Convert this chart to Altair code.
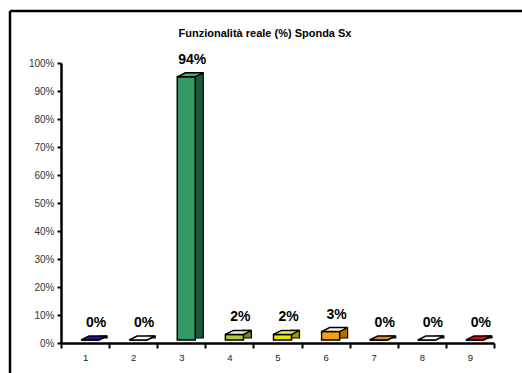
import altair as alt
import pandas as pd

categories = ["1", "2", "3", "4", "5", "6", "7", "8", "9"]
values = [0.0, 0.0, 0.94, 0.02, 0.02, 0.03, 0.0, 0.0, 0.0]
labels = ["0%", "0%", "94%", "2%", "2%", "3%", "0%", "0%", "0%"]
front_colors = ["#10108a", "#e8eef8", "#339966", "#b8c838", "#e6e600", "#f0a010", "#cc8400", "#ffffff", "#c80000"]
top_colors = ["#1818a0", "#f4f6ff", "#3aa872", "#f0f0c8", "#f2f230", "#fff6dc", "#d89020", "#fff4f0", "#d81010"]
side_colors = ["#08085a", "#3355aa", "#1d5a3c", "#6a8a20", "#9a9a00", "#b07000", "#8a5800", "#dd2020", "#880000"]
title_text = "Funzionalità reale (%) Sponda Sx"

df = pd.DataFrame({"cat": categories, "val": values, "lab": labels,
                   "front": front_colors, "top": top_colors, "side": side_colors})

FONT = "Liberation Sans"
FLOOR = -3

x = alt.X("cat:N", sort=categories, title=None,
          scale=alt.Scale(paddingInner=0, paddingOuter=0),
          axis=alt.Axis(labelAngle=0, tickBand="extent", domainColor="black", domainWidth=2.5,
                        tickColor="black", tickWidth=2, tickSize=5, labelFontSize=9.5,
                        labelFont=FONT, labelColor="#222", labelPadding=4))
y = alt.Y("val:Q", title=None,
          scale=alt.Scale(domain=[0, 1], nice=False),
          axis=alt.Axis(values=[i / 10 for i in range(11)], format=".0%", grid=False,
                        domainColor="black", domainWidth=2.5, tickColor="black", tickWidth=2,
                        tickSize=4, labelFontSize=10, labelFont=FONT, labelColor="#333",
                        labelPadding=3))

base = alt.Chart(df)

side = base.mark_bar(size=8, xOffset=18, yOffset=FLOOR - 4, y2Offset=FLOOR - 2,
                     stroke="black", strokeWidth=1.2).encode(
    x=x, y=y, y2=alt.datum(0), fill=alt.Fill("side:N", scale=None))

front = base.mark_bar(size=18, xOffset=5, yOffset=FLOOR, y2Offset=FLOOR,
                      stroke="black", strokeWidth=1.5).encode(
    x=x, y=y, y2=alt.datum(0), fill=alt.Fill("front:N", scale=None))

shape = "M -1 0.154 L 0.385 0.154 L 1 -0.154 L -0.385 -0.154 Z"
top = base.mark_point(shape=shape, size=676, filled=True, stroke="black", strokeWidth=1.5,
                      opacity=1, xOffset=9, yOffset=FLOOR - 2).encode(
    x=x, y=y, fill=alt.Fill("top:N", scale=None))

text = base.mark_text(dx=11, dy=-16, baseline="alphabetic", fontSize=14, fontWeight="bold",
                      font=FONT, color="black").encode(x=x, y=y, text="lab:N")

one = pd.DataFrame({"a": [0]})
title = alt.Chart(one).mark_text(fontSize=11, fontWeight="bold", font=FONT, color="black",
                                 align="center", baseline="alphabetic").encode(
    x=alt.value(204), y=alt.value(-26), text=alt.value(title_text))
border_top = alt.Chart(one).mark_rule(color="black", strokeWidth=2.5).encode(
    x=alt.value(-51), x2=alt.value(600), y=alt.value(-52))
border_left = alt.Chart(one).mark_rule(color="black", strokeWidth=2.5).encode(
    x=alt.value(-51), y=alt.value(-52), y2=alt.value(400))

chart = alt.layer(side, front, top, text, title, border_top, border_left).properties(
    width=433, height=280,
    autosize=alt.AutoSizeParams(type="none"),
    padding={"left": 61, "top": 63, "right": 28, "bottom": 30},
    background="white",
).configure_view(stroke=None)

chart.save("out.html", embed_options={"renderer": "svg", "actions": False})
